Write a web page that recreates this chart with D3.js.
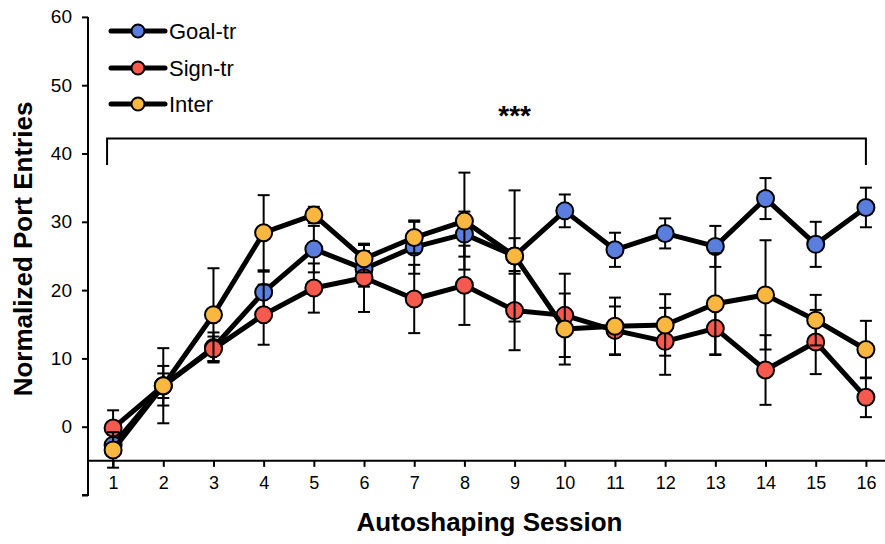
<!DOCTYPE html>
<html>
<head>
<meta charset="utf-8">
<script src="https://cdn.jsdelivr.net/npm/d3@7"></script>
<style>
  html, body { margin: 0; padding: 0; background: #fff; }
  svg { display: block; font-family: "Liberation Sans", Arial, sans-serif; }
</style>
</head>
<body>
<svg id="chart" width="885" height="544"></svg>
<script>
// Session numbers on the x axis
const sessions = [1, 2, 3, 4, 5, 6, 7, 8, 9, 10, 11, 12, 13, 14, 15, 16];

// Mean normalized port entries per group, with SEM
const goalMean  = [-2.7, 6.0, 11.6, 19.7, 26.0, 23.1, 26.3, 28.2, 25.0, 31.6, 25.9, 28.3, 26.4, 33.4, 26.7, 32.1];
const goalErr   = [1.5, 1.8, 2.2, 3.0, 3.4, 2.6, 3.9, 3.3, 2.6, 2.4, 2.5, 2.2, 3.0, 3.0, 3.3, 2.9];
const signMean  = [-0.2, 6.0, 11.4, 16.4, 20.3, 21.8, 18.7, 20.7, 17.0, 16.3, 14.1, 12.5, 14.4, 8.3, 12.4, 4.3];
const signErr   = [2.6, 5.5, 1.8, 4.4, 3.6, 5.0, 5.0, 5.8, 5.8, 6.1, 3.5, 4.9, 3.9, 5.1, 4.7, 2.9];
const interMean = [-3.4, 6.0, 16.4, 28.4, 31.0, 24.6, 27.7, 30.1, 25.0, 14.3, 14.7, 14.9, 18.0, 19.3, 15.6, 11.3];
const interErr  = [2.6, 2.9, 6.8, 5.5, 1.2, 2.0, 2.3, 7.1, 9.6, 5.2, 4.2, 4.5, 7.4, 8.0, 3.7, 4.2];

const seriesNames  = ["Goal-tr", "Sign-tr", "Inter"];
const seriesColors = ["#5a7edd", "#f65a4e", "#fab740"];
const yTickValues  = [-10, 0, 10, 20, 30, 40, 50, 60];
const yTickLabels  = ["", "0", "10", "20", "30", "40", "50", "60"];

const series = [
  { name: seriesNames[0], color: seriesColors[0], mean: goalMean,  err: goalErr },
  { name: seriesNames[1], color: seriesColors[1], mean: signMean,  err: signErr },
  { name: seriesNames[2], color: seriesColors[2], mean: interMean, err: interErr }
];

const svg = d3.select("#chart");

const x = d3.scaleLinear().domain([0.5, 16.5]).range([88, 891]);
const y = d3.scaleLinear().domain([-10, 60]).range([495, 16.9]);

// Y axis (ticks outward, labels 0..60; the bottom tick is unlabeled)
const yAxis = d3.axisLeft(y)
  .tickValues(yTickValues)
  .tickFormat((d, i) => yTickLabels[i])
  .tickSize(6)
  .tickPadding(10);
const gy = svg.append("g").attr("transform", `translate(${x(0.5)},0)`).call(yAxis);
gy.select(".domain").attr("stroke", "#000").attr("stroke-width", 2).attr("d", `M-6,${y(-10)}H0V${y(60)}`);
gy.selectAll(".tick line").attr("stroke", "#000").attr("stroke-width", 2);
gy.selectAll(".tick text").attr("font-size", 19).attr("fill", "#000")
  .attr("font-family", "Liberation Sans, Arial, sans-serif");

// X axis crossing at -5
const xAxis = d3.axisBottom(x).tickValues(sessions).tickSize(6).tickPadding(9);
const gx = svg.append("g").attr("transform", `translate(0,${y(-5)})`).call(xAxis);
gx.select(".domain").attr("stroke", "#000").attr("stroke-width", 2).attr("d", `M${x(0.5)},0H885`);
gx.selectAll(".tick line").attr("stroke", "#000").attr("stroke-width", 2);
gx.selectAll(".tick text").attr("font-size", 18).attr("fill", "#000")
  .attr("font-family", "Liberation Sans, Arial, sans-serif");

// Axis titles
svg.append("text")
  .attr("x", (x(1) + x(16)) / 2)
  .attr("y", 531)
  .attr("text-anchor", "middle")
  .attr("font-size", 26).attr("font-weight", "bold")
  .text("Autoshaping Session");

svg.append("text")
  .attr("transform", `translate(32,249) rotate(-90)`)
  .attr("text-anchor", "middle")
  .attr("font-size", 26).attr("font-weight", "bold")
  .text("Normalized Port Entries");

// Significance bracket spanning all sessions
const bracketLeft = 0.88, bracketRight = 16, bracketTop = 42.2, bracketFoot = 38.3;
svg.append("path")
  .attr("d", `M${x(bracketLeft)},${y(bracketFoot)}V${y(bracketTop)}H${x(bracketRight)}V${y(bracketFoot)}`)
  .attr("fill", "none").attr("stroke", "#000").attr("stroke-width", 2);
svg.append("text")
  .attr("x", x(9)).attr("y", 125)
  .attr("text-anchor", "middle")
  .attr("font-size", 28).attr("font-weight", "bold")
  .text("***");

// Series: error bars, connecting line, markers
const line = d3.line().x((d, i) => x(sessions[i])).y(d => y(d));
const capHalf = 6;

series.forEach(s => {
  const g = svg.append("g");
  const eb = g.append("g").attr("stroke", "#000").attr("stroke-width", 2);
  s.mean.forEach((m, i) => {
    const cx = x(sessions[i]);
    const top = y(m + s.err[i]), bot = y(m - s.err[i]);
    eb.append("line").attr("x1", cx).attr("x2", cx).attr("y1", top).attr("y2", bot);
    eb.append("line").attr("x1", cx - capHalf).attr("x2", cx + capHalf).attr("y1", top).attr("y2", top);
    eb.append("line").attr("x1", cx - capHalf).attr("x2", cx + capHalf).attr("y1", bot).attr("y2", bot);
  });
  g.append("path")
    .attr("d", line(s.mean))
    .attr("fill", "none").attr("stroke", "#000").attr("stroke-width", 5)
    .attr("stroke-linejoin", "round");
  g.selectAll("circle").data(s.mean).join("circle")
    .attr("cx", (d, i) => x(sessions[i]))
    .attr("cy", d => y(d))
    .attr("r", 8.5)
    .attr("fill", s.color).attr("stroke", "#000").attr("stroke-width", 2);
});

// Legend
const legendY = [31, 68, 104];
const legend = svg.append("g");
series.forEach((s, i) => {
  const ly = legendY[i];
  legend.append("line").attr("x1", 111).attr("x2", 165).attr("y1", ly).attr("y2", ly)
    .attr("stroke", "#000").attr("stroke-width", 5).attr("stroke-linecap", "round");
  legend.append("circle").attr("cx", 138).attr("cy", ly).attr("r", 6.5)
    .attr("fill", s.color).attr("stroke", "#000").attr("stroke-width", 2);
  legend.append("text").attr("x", 169).attr("y", ly + 8)
    .attr("font-size", 22).text(s.name);
});
</script>
</body>
</html>
